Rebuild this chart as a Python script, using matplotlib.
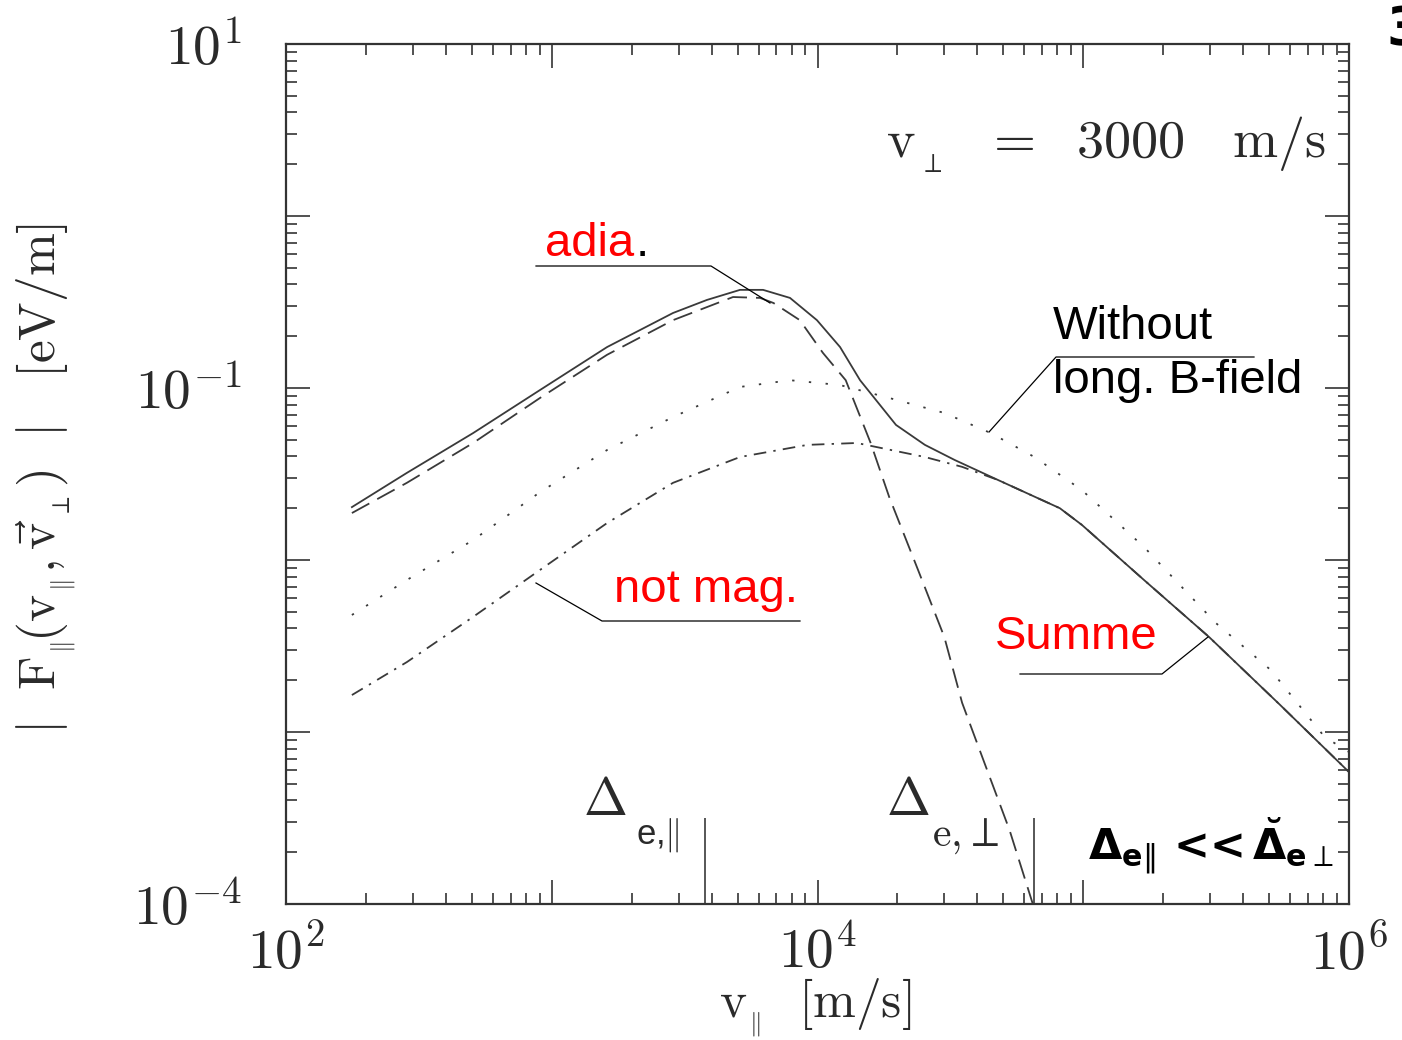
import numpy as np
import matplotlib.pyplot as plt
from matplotlib.lines import Line2D
from matplotlib.ticker import FixedLocator, FixedFormatter, LogLocator, NullFormatter

plt.rcParams['mathtext.fontset'] = 'cm'

# data
v_sum = [177, 285, 506, 903, 1615, 2860, 3835, 5110, 6240, 7880, 9950, 12160,
         14460, 19740, 25360, 32880, 47740, 81660, 98800, 169300, 297300, 549700, 1e6]
F_sum = [0.0203, 0.0321, 0.0547, 0.0973, 0.173, 0.273, 0.325, 0.372, 0.372, 0.334,
         0.248, 0.173, 0.111, 0.0610, 0.0467, 0.0381, 0.0292, 0.0200, 0.0160,
         0.00765, 0.00357, 0.00144, 0.000585]

v_adia = [177, 285, 506, 903, 1615, 2860, 4810, 6080, 6830, 8580, 10480, 12770,
          15850, 18620, 23900, 30000, 35000, 42500, 52800, 64600]
F_adia = [0.01875, 0.0281, 0.0479, 0.0875, 0.156, 0.248, 0.338, 0.334, 0.312, 0.248,
          0.160, 0.111, 0.0479, 0.0232, 0.00875, 0.00357, 0.00148, 0.00066,
          0.000269, 0.0001]

v_noB = [177, 285, 506, 903, 1615, 2860, 5110, 7880, 12160, 18620, 30000, 44900,
         65500, 98800, 169300, 315000, 508000, 810000, 1e6]
F_noB = [0.00479, 0.00765, 0.01306, 0.0248, 0.0436, 0.0678, 0.1014, 0.111, 0.104,
         0.0875, 0.0716, 0.0547, 0.0397, 0.0255, 0.0119, 0.00431, 0.00229,
         0.000935, 0.000765]

v_nmag = [177, 285, 506, 903, 1615, 2860, 5110, 9160, 14060, 25360, 35000, 47740,
          81660, 98800, 169300, 297300, 549700, 1e6]
F_nmag = [0.00164, 0.00255, 0.00467, 0.00875, 0.0164, 0.0281, 0.0397, 0.0467,
          0.0479, 0.0397, 0.0348, 0.0292, 0.0200, 0.0160, 0.00765, 0.00357,
          0.00144, 0.000585]

delta_v = [3760, 65400]  # Delta_e,par and Delta_e,perp markers

W, H = 1402, 1040


def px(x, y):
    return x / W, 1 - y / H


fig = plt.figure(figsize=(W / 100, H / 100), dpi=100)
ax = fig.add_axes([286 / W, 1 - 904 / H, (1349 - 286) / W, (904 - 44) / H])

lc = '#3a3a3a'
lw = 1.3
ax.plot(v_sum, F_sum, color=lc, lw=lw)
ax.plot(v_adia, F_adia, color=lc, lw=lw, dashes=(11, 5))
ax.plot(v_noB, F_noB, color=lc, lw=lw, dashes=(1.3, 8))
ax.plot(v_nmag, F_nmag, color=lc, lw=lw, dashes=(7, 4, 1.3, 4))
ax.vlines(delta_v, 1e-4, 10 ** -3.5, color=lc, lw=1.2)

ax.set_xscale('log')
ax.set_yscale('log')
ax.set_xlim(1e2, 1e6)
ax.set_ylim(1e-4, 1e1)

xt = [1e2, 1e3, 1e4, 1e5, 1e6]
xl = [r'$10^{2}$', '', r'$10^{4}$', '', r'$10^{6}$']
yt = [1e-4, 1e-3, 1e-2, 1e-1, 1e0, 1e1]
yl = [r'$10^{-4}$', '', '', r'$10^{-1}$', '', r'$10^{1}$']
ax.xaxis.set_major_locator(FixedLocator(xt))
ax.xaxis.set_major_formatter(FixedFormatter(xl))
ax.yaxis.set_major_locator(FixedLocator(yt))
ax.yaxis.set_major_formatter(FixedFormatter(yl))
ax.xaxis.set_minor_locator(LogLocator(base=10, subs=np.arange(2, 10), numticks=20))
ax.yaxis.set_minor_locator(LogLocator(base=10, subs=np.arange(2, 10), numticks=20))
ax.xaxis.set_minor_formatter(NullFormatter())
ax.yaxis.set_minor_formatter(NullFormatter())

ax.tick_params(which='both', direction='in', top=True, right=True, color='#333333',
               width=1.2, labelcolor='#2a2a2a', labelsize=40)
ax.tick_params(which='major', length=17)
ax.tick_params(which='minor', length=8)
ax.tick_params(axis='x', pad=16)
ax.tick_params(axis='y', pad=32)
for s in ax.spines.values():
    s.set_color('#333333')
    s.set_linewidth(1.6)

fig.text(*px(815, 1008), r'$\mathrm{v}_{_{\Vert}}\ \ [\mathrm{m/s}]$', fontsize=37,
         color='#2a2a2a', ha='center', va='center')
fig.text(*px(46, 478),
         r'$|\ \ \mathrm{F}_{_{\Vert}}\!(\mathrm{v}_{_{\Vert}},\vec{\mathrm{v}}_{_{\perp}})\ \ |\ \ \ [\mathrm{eV/m}]$',
         fontsize=37, color='#2a2a2a', ha='center', va='center', rotation=90)

fig.text(*px(1106, 145), r'$\mathrm{v}_{_{\perp}}\ \ =\ \ 3000\ \ \ \mathrm{m/s}$', fontsize=39,
         color='#2a2a2a', ha='center', va='center')

# Delta markers
fig.text(*px(605, 800), r'$\Delta$', fontsize=38, color='#2a2a2a', ha='center', va='center')
fig.text(*px(658, 835), r'e,$\Vert$', fontsize=25, color='#2a2a2a', ha='center', va='center',
         family='Liberation Sans')
fig.text(*px(908, 800), r'$\Delta$', fontsize=38, color='#2a2a2a', ha='center', va='center')
fig.text(*px(966, 835), r'$\mathrm{e},\!\perp$', fontsize=30, color='#2a2a2a', ha='center', va='center')
fig.text(*px(1211, 846), r'$\mathbf{\Delta}_{\mathbf{e}\Vert}$ <<$\,\breve{\mathbf{\Delta}}_{\mathbf{e}\perp}$',
         fontsize=31, color='black', ha='center', va='center', fontweight='bold',
         family='DejaVu Sans', math_fontfamily='dejavusans')

# annotations
af = 'Liberation Sans'
fs = 34
fig.text(*px(545, 244), 'adia', fontsize=fs, color='red', family=af, va='center')
fig.text(*px(636, 244), '.', fontsize=fs, color='black', family=af, va='center')
fig.add_artist(Line2D([px(536, 0)[0], px(711, 0)[0], px(770, 0)[0]],
                      [px(0, 266)[1], px(0, 266)[1], px(0, 303)[1]], color='black', lw=0.9))

fig.text(*px(614, 590), 'not mag.', fontsize=fs, color='red', family=af, va='center')
fig.add_artist(Line2D([px(536, 0)[0], px(602, 0)[0], px(800, 0)[0]],
                      [px(0, 583)[1], px(0, 621)[1], px(0, 621)[1]], color='black', lw=0.9))

fig.text(*px(1053, 327), 'Without', fontsize=fs, color='black', family=af, va='center')
fig.text(*px(1053, 381), 'long. B-field', fontsize=fs, color='black', family=af, va='center')
fig.add_artist(Line2D([px(989, 0)[0], px(1056, 0)[0], px(1254, 0)[0]],
                      [px(0, 432)[1], px(0, 357)[1], px(0, 357)[1]], color='black', lw=0.9))

fig.text(*px(995, 637), 'Summe', fontsize=fs, color='red', family=af, va='center')
fig.add_artist(Line2D([px(1020, 0)[0], px(1162, 0)[0], px(1208, 0)[0]],
                      [px(0, 674)[1], px(0, 674)[1], px(0, 637)[1]], color='black', lw=0.9))

# glyph cut by the right edge of the slide, as in the source image
fig.text(*px(1386, 30), '3', fontsize=38, color='black', fontweight='bold', family='DejaVu Sans',
         va='center')

fig.savefig('out.png', dpi=100)
